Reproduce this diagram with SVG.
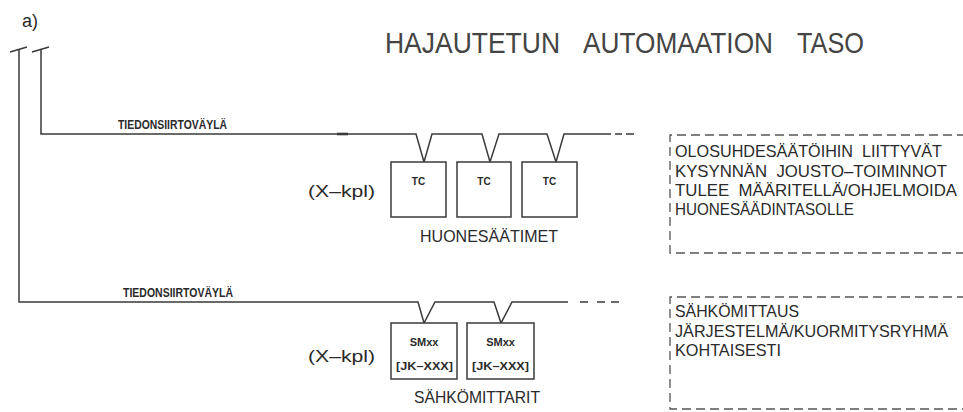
<svg xmlns="http://www.w3.org/2000/svg" width="963" height="412" viewBox="0 0 963 412">
<style>
.ln{fill:none;stroke:#3a3a3a;stroke-width:1.5;stroke-linecap:butt}
.bx{fill:#fff;stroke:#3a3a3a;stroke-width:1.5}
.dsh{fill:none;stroke:#555;stroke-width:1.3;stroke-dasharray:9 5}
.t{font-family:"Liberation Sans",Arial,sans-serif;fill:#2a2a2a}
.ti{font-size:29px;fill:#444}
.bus{font-size:12px;font-weight:bold}
.big{font-size:17px}
.sm{font-size:10px;font-weight:bold}
.sm2{font-size:11px;font-weight:bold}
.note{font-size:17px}
</style>
<rect width="963" height="412" fill="#fff"/>
<text class="t" x="22" y="27" style="font-size:18px">a)</text>
<g id="title">
<text class="t ti" x="385" y="53" textLength="175" lengthAdjust="spacingAndGlyphs">HAJAUTETUN</text>
<text class="t ti" x="583" y="53" textLength="190" lengthAdjust="spacingAndGlyphs">AUTOMAATION</text>
<text class="t ti" x="797" y="53" textLength="67" lengthAdjust="spacingAndGlyphs">TASO</text>
</g>
<g id="connectors">
<path class="ln" d="M10,52 L27,47 M32,52 L49,47"/>
<path class="ln" d="M19,49 V302 H418 L424,323 L435,302 H494 L501,323 L512,302 H568"/>
<path class="ln" d="M580,302 H588 M597,302 H605 M611,302 H619"/>
<path class="ln" d="M41,49 V134 H416 L424,162 L432,134 H482 L490,162 L499,134 H547 L556,162 L564,134 H611"/>
<path class="ln" d="M615,134 H622 M626,134 H634"/>
<path class="ln" d="M337,134 H348" style="stroke-width:2.6"/>
</g>
<g id="bus1-label"><text class="t bus" x="118" y="129" textLength="109" lengthAdjust="spacingAndGlyphs">TIEDONSIIRTOVÄYLÄ</text></g>
<g id="bus2-label"><text class="t bus" x="123" y="297" textLength="110" lengthAdjust="spacingAndGlyphs">TIEDONSIIRTOVÄYLÄ</text></g>
<g id="tc-count"><text class="t big" x="308" y="197" textLength="67" lengthAdjust="spacingAndGlyphs">(X–kpl)</text></g>
<g id="tc1"><rect class="bx" x="391" y="162" width="55" height="55"/><text class="t sm" x="418.5" y="185" text-anchor="middle">TC</text></g>
<g id="tc2"><rect class="bx" x="457" y="162" width="54" height="55"/><text class="t sm" x="484" y="185" text-anchor="middle">TC</text></g>
<g id="tc3"><rect class="bx" x="522" y="162" width="55" height="55"/><text class="t sm" x="549.5" y="185" text-anchor="middle">TC</text></g>
<g id="tc-label"><text class="t big" x="420" y="242" textLength="138" lengthAdjust="spacingAndGlyphs">HUONESÄÄTIMET</text></g>
<g id="sm-count"><text class="t big" x="308" y="362" textLength="67" lengthAdjust="spacingAndGlyphs">(X–kpl)</text></g>
<g id="sm1"><rect class="bx" x="391" y="323" width="66" height="56"/><text class="t sm2" x="424" y="346" text-anchor="middle">SMxx</text><text class="t sm2" x="396" y="370" textLength="57" lengthAdjust="spacingAndGlyphs">[JK–XXX]</text></g>
<g id="sm2"><rect class="bx" x="467" y="323" width="67" height="56"/><text class="t sm2" x="500.5" y="346" text-anchor="middle">SMxx</text><text class="t sm2" x="472" y="370" textLength="57" lengthAdjust="spacingAndGlyphs">[JK–XXX]</text></g>
<g id="sm-label"><text class="t big" x="414" y="403" textLength="126" lengthAdjust="spacingAndGlyphs">SÄHKÖMITTARIT</text></g>
<g id="note1">
<path class="dsh" d="M980,135 H670 V253 H980"/>
<text class="t note" x="675" y="157" xml:space="preserve" textLength="267" lengthAdjust="spacingAndGlyphs">OLOSUHDESÄÄTÖIHIN  LIITTYVÄT</text>
<text class="t note" x="675" y="177" xml:space="preserve" textLength="272" lengthAdjust="spacingAndGlyphs">KYSYNNÄN  JOUSTO–TOIMINNOT</text>
<text class="t note" x="675" y="196" xml:space="preserve" textLength="282" lengthAdjust="spacingAndGlyphs">TULEE  MÄÄRITELLÄ/OHJELMOIDA</text>
<text class="t note" x="675" y="215" textLength="179" lengthAdjust="spacingAndGlyphs">HUONESÄÄDINTASOLLE</text>
</g>
<g id="note2">
<path class="dsh" d="M980,297 H670 V409 H980"/>
<text class="t note" x="675" y="317" textLength="124" lengthAdjust="spacingAndGlyphs">SÄHKÖMITTAUS</text>
<text class="t note" x="675" y="337" textLength="273" lengthAdjust="spacingAndGlyphs">JÄRJESTELMÄ/KUORMITYSRYHMÄ</text>
<text class="t note" x="675" y="356" textLength="106" lengthAdjust="spacingAndGlyphs">KOHTAISESTI</text>
</g>
</svg>
